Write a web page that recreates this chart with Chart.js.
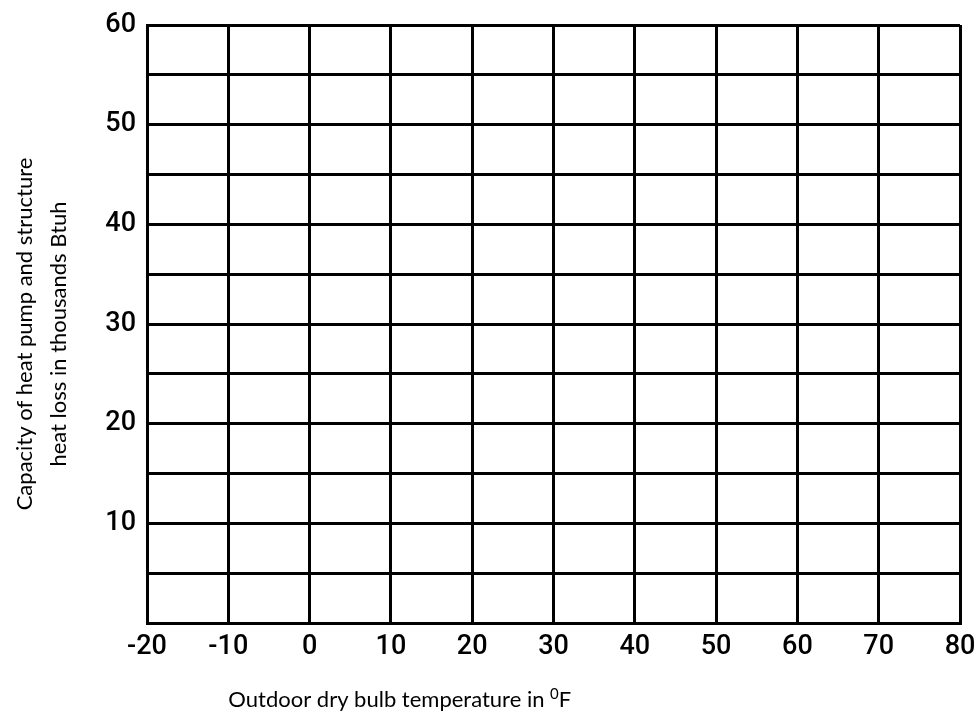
<!DOCTYPE html>
<html>
<head>
<meta charset="utf-8">
<script src="https://cdn.jsdelivr.net/npm/chart.js@4.4.1/dist/chart.umd.min.js"></script>
<style>
  html, body { margin: 0; padding: 0; background: #fff; }
  #wrap { width: 974px; height: 715px; }
</style>
</head>
<body>
<div id="wrap"><canvas id="grid-chart"></canvas></div>
<script>
// Blank worksheet grid: temperature vs. capacity / heat loss
const xTicks = [-20, -10, 0, 10, 20, 30, 40, 50, 60, 70, 80];
const yLabelled = [10, 20, 30, 40, 50, 60];
const yStep = 5;
const xTitle = ['Outdoor dry bulb temperature in ', '0', 'F'];
const yTitle = ['Capacity of heat pump and structure', 'heat loss in thousands Btuh'];

const INK = '#000';
const tickFont = {family: 'Roboto', size: 27, weight: '500'};

// axis titles drawn by hand so they can sit off-centre like the printed form
const axisTitles = {
  id: 'axisTitles',
  afterDraw(chart) {
    const {ctx, chartArea, scales} = chart;
    ctx.save();
    ctx.fillStyle = INK;
    ctx.textBaseline = 'alphabetic';
    ctx.textAlign = 'left';
    let x = scales.x.getPixelForValue(-10);
    const base = 707;
    ctx.font = '22px Lato';
    ctx.fillText(xTitle[0], x, base);
    x += ctx.measureText(xTitle[0]).width;
    ctx.font = '15px Lato';
    ctx.fillText(xTitle[1], x, base - 8);
    x += ctx.measureText(xTitle[1]).width;
    ctx.font = '22px Lato';
    ctx.fillText(xTitle[2], x, base);

    const midY = (chartArea.top + chartArea.bottom) / 2 + 10;
    ctx.textAlign = 'center';
    ctx.textBaseline = 'middle';
    [25, 59].forEach((cx, i) => {
      ctx.save();
      ctx.translate(cx, midY);
      ctx.rotate(-Math.PI / 2);
      ctx.fillText(yTitle[i], 0, 0);
      ctx.restore();
    });
    ctx.restore();
  }
};

new Chart(document.getElementById('grid-chart').getContext('2d'), {
  type: 'scatter',
  data: {datasets: []},
  options: {
    responsive: true,
    maintainAspectRatio: false,
    animation: false,
    layout: {padding: {top: 25, right: 14, left: 0, bottom: 0}},
    plugins: {legend: {display: false}, tooltip: {enabled: false}},
    scales: {
      x: {
        type: 'linear',
        min: xTicks[0],
        max: xTicks[xTicks.length - 1],
        afterBuildTicks: s => { s.ticks = xTicks.map(v => ({value: v})); },
        afterFit: s => { s.height = 92; s.paddingLeft = 0; s.paddingRight = 0; },
        ticks: {color: INK, font: tickFont, padding: 8, maxRotation: 0, autoSkip: false},
        grid: {color: INK, lineWidth: 3, drawTicks: false},
        border: {color: INK, width: 3}
      },
      y: {
        type: 'linear',
        min: 0,
        max: 60,
        ticks: {
          stepSize: yStep,
          color: INK,
          font: tickFont,
          padding: 11,
          autoSkip: false,
          callback: v => yLabelled.includes(v) ? String(v) : ''
        },
        afterFit: s => { s.width = 147; s.paddingTop = 0; s.paddingBottom = 0; },
        grid: {color: INK, lineWidth: 3, drawTicks: false},
        border: {color: INK, width: 3}
      }
    }
  },
  plugins: [axisTitles]
});
</script>
</body>
</html>
